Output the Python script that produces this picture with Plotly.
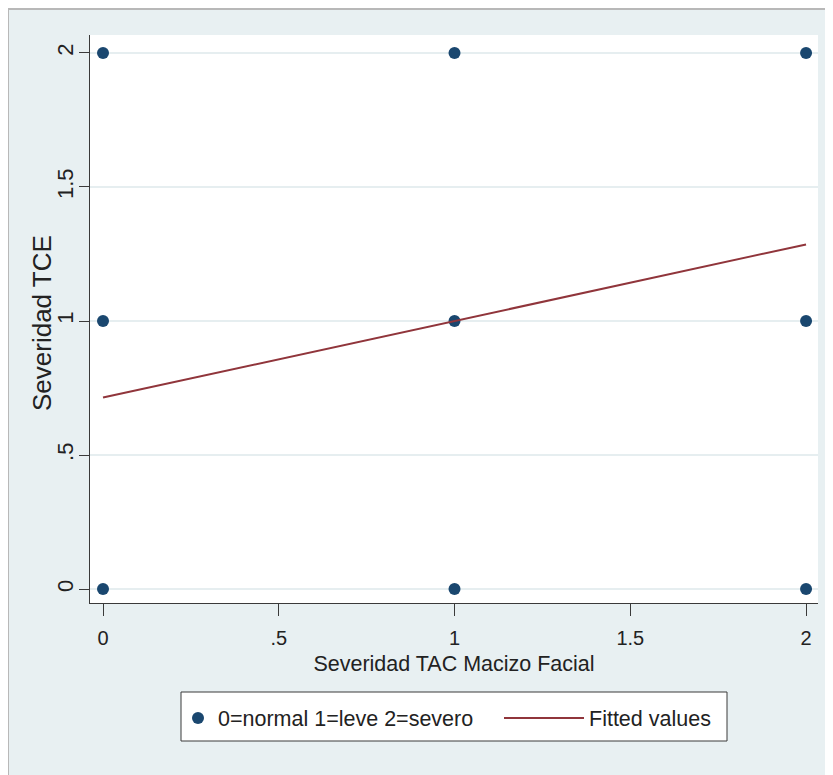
import plotly.graph_objects as go

# Data
x_obs = [0, 1, 2, 0, 1, 2, 0, 1, 2]
y_obs = [2, 2, 2, 1, 1, 1, 0, 0, 0]
x_fit = [0, 1, 2]
y_fit = [0.7142857, 1.0, 1.2857143]

x_ticks = [0, 0.5, 1, 1.5, 2]
x_ticktext = ["0", ".5", "1", "1.5", "2"]
y_ticks = [0, 0.5, 1, 1.5, 2]
y_ticktext = ["0", ".5", "1", "1.5", "2"]

x_title = "Severidad TAC Macizo Facial"
y_title = "Severidad TCE"

FONT = "Liberation Sans, Arial, Helvetica, sans-serif"
BG = "#e8f0f2"
NAVY = "#1a476f"
MAROON = "#90353b"
AXIS = "#3a3a3a"

# figure sits at an 8px page offset
W, H = 825, 767
L, R, T, B = 82, 810, 27, 595

fig = go.Figure()
fig.add_trace(go.Scatter(
    x=x_obs, y=y_obs, mode="markers", name="0=normal 1=leve 2=severo",
    marker=dict(color=NAVY, size=12, line=dict(width=0)),
    legend="legend",
))
fig.add_trace(go.Scatter(
    x=x_fit, y=y_fit, mode="lines", name="Fitted values",
    line=dict(color=MAROON, width=2),
    legend="legend2",
))

def px_x(p):
    return (p - L) / (R - L)

def px_y(p):
    return (B - p) / (B - T)

shapes = [
    dict(type="line", xref="paper", yref="paper", x0=px_x(0), x1=px_x(W), y0=px_y(1), y1=px_y(1),
         line=dict(color="#b8b8b8", width=2)),
    dict(type="line", xref="paper", yref="paper", x0=px_x(0), x1=px_x(0), y0=px_y(1), y1=px_y(H),
         line=dict(color="#b8b8b8", width=2)),
    # legend frame
    dict(type="rect", xref="paper", yref="paper", x0=px_x(173), x1=px_x(719), y0=px_y(733), y1=px_y(684),
         fillcolor="white", line=dict(color=AXIS, width=1), layer="below"),
]

leg_y = px_y(710)
fig.update_layout(
    width=W, height=H,
    margin=dict(l=L, r=W - R, t=T, b=H - B),
    paper_bgcolor=BG, plot_bgcolor="white",
    font=dict(family=FONT, size=20, color="#222222"),
    shapes=shapes,
    showlegend=True,
    legend=dict(
        orientation="h", x=px_x(170), xanchor="left", y=leg_y, yanchor="middle",
        bgcolor="rgba(0,0,0,0)", borderwidth=0,
        font=dict(size=21.5, family=FONT, color="#222222"),
        itemwidth=30,
    ),
    legend2=dict(
        orientation="h", x=px_x(491), xanchor="left", y=leg_y, yanchor="middle",
        bgcolor="rgba(0,0,0,0)", borderwidth=0,
        font=dict(size=21.5, family=FONT, color="#222222"),
        itemwidth=80,
    ),
    annotations=[
        dict(text=y_title, xref="paper", yref="paper", x=px_x(34), y=px_y(315),
             xanchor="center", yanchor="middle", textangle=-90, showarrow=False,
             font=dict(size=26, family=FONT, color="#222222")),
    ],
)

fig.update_xaxes(
    range=[-0.037, 2.034], tickvals=x_ticks, ticktext=x_ticktext,
    showline=True, linecolor=AXIS, linewidth=1, mirror=False,
    ticks="outside", ticklen=12, tickcolor=AXIS, tickwidth=1,
    showgrid=False, zeroline=False, ticklabelstandoff=5,
    tickfont=dict(size=20),
    title=dict(text=x_title, font=dict(size=21.5), standoff=7),
)
fig.update_yaxes(
    range=[-0.052, 2.067], tickvals=y_ticks, ticktext=y_ticktext,
    showline=True, linecolor=AXIS, linewidth=1, mirror=False,
    ticks="outside", ticklen=10, tickcolor=AXIS, tickwidth=1,
    showgrid=True, gridcolor="#e6eef0", gridwidth=2, zeroline=False,
    tickangle=-90, tickfont=dict(size=22), ticklabelstandoff=-3,
)

fig.write_html("out.html")
